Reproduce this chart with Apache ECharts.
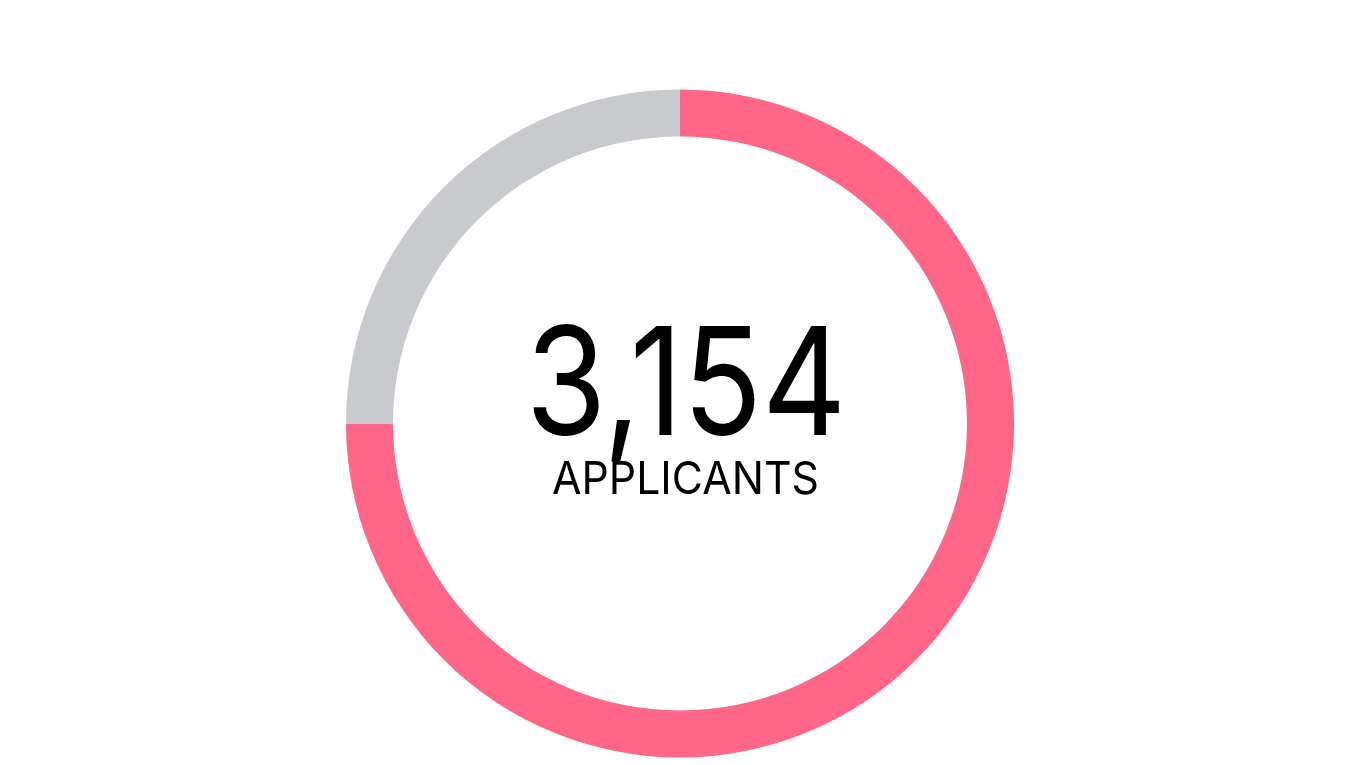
<!DOCTYPE html>
<html><head><meta charset="utf-8">
<script src="https://cdn.jsdelivr.net/npm/echarts@6/dist/echarts.min.js"></script>
<style>html,body{margin:0;padding:0;background:#fff}#c{width:1360px;height:765px}</style>
</head><body><div id="c"></div>
<script>
const categories = ['Segment A', 'Segment B'];
const values = [75, 25];
const colors = ['#FF6687', '#C9CACE'];
const totalLabel = '3,154';
const subLabel = 'APPLICANTS';

const chart = echarts.init(document.getElementById('c'));
chart.setOption({
  animation: false,
  backgroundColor: '#ffffff',
  graphic: [
    { type: 'text', x: 686, y: 315, scaleX: 0.87,
      style: { text: totalLabel, x: 0, y: 0, align: 'center', verticalAlign: 'top', font: '400 150px Inter', fill: '#000' } },
    { type: 'text', x: 685.5, y: 458, scaleX: 0.95,
      style: { text: subLabel, x: 0, y: 0, align: 'center', verticalAlign: 'top', font: '400 45px Inter', fill: '#000' } }
  ],
  series: [{
    type: 'pie',
    center: [680, 423.5],
    radius: [287, 334],
    startAngle: 90,
    clockwise: true,
    silent: true,
    label: { show: false },
    labelLine: { show: false },
    data: categories.map((n, i) => ({ name: n, value: values[i], itemStyle: { color: colors[i] } }))
  }]
});
</script></body></html>
